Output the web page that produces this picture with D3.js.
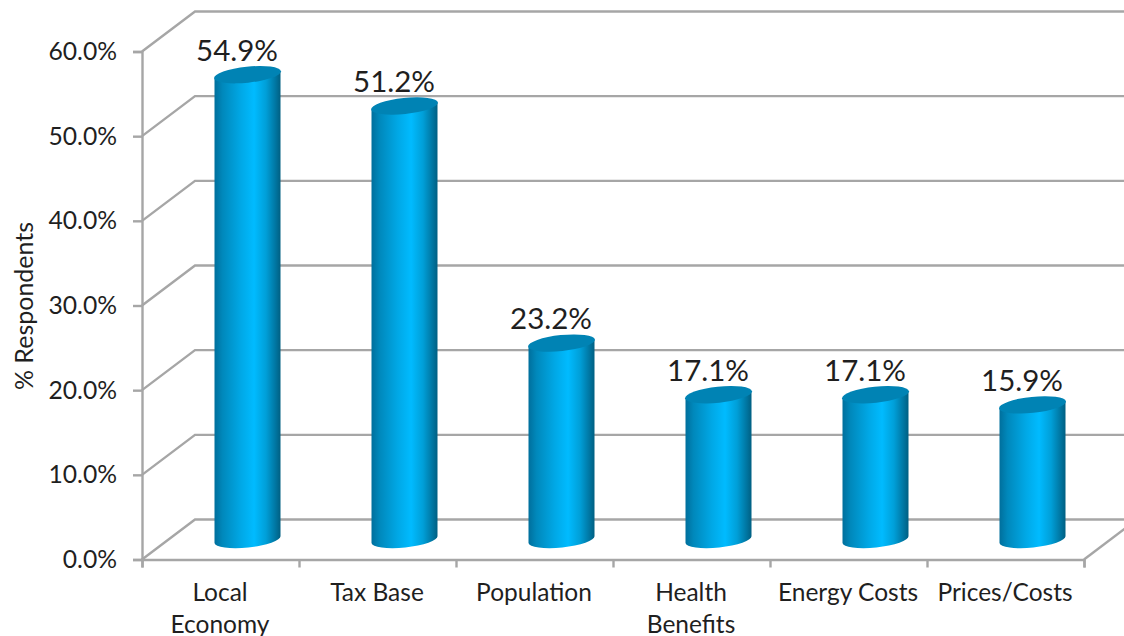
<!DOCTYPE html>
<html><head><meta charset="utf-8">
<script src="https://cdn.jsdelivr.net/npm/d3@7"></script>
<style>html,body{margin:0;padding:0;background:#fff}svg{display:block}text{font-family:Lato,"Open Sans",sans-serif;fill:#1f1f1f}</style>
</head><body><svg id="c" width="1124" height="636"></svg>
<script>
const categories = ["Local Economy","Tax Base","Population","Health Benefits","Energy Costs","Prices/Costs"];
const categoryLines = [["Local","Economy"],["Tax Base"],["Population"],["Health","Benefits"],["Energy Costs"],["Prices/Costs"]];
const values = [54.9,51.2,23.2,17.1,17.1,15.9];
const valueLabels = ["54.9%","51.2%","23.2%","17.1%","17.1%","15.9%"];
const yTicks = [0,10,20,30,40,50,60];

const W=1124,H=636, depthX=53, depthY=-40;
const svg=d3.select("#c");
const x=d3.scaleBand().domain(categories).range([142,1084]);
const xEdge=d3.scaleLinear().domain([0,6]).range([142,1084]);
const y=d3.scaleLinear().domain([0,60]).range([559.5,51.5]);
const grid="#a6a6a6";

// gradient
const defs=svg.append("defs");
const g=defs.append("linearGradient").attr("id","cyl").attr("x1",0).attr("x2",1).attr("y1",0).attr("y2",0);
[[0,"#006f9c"],[0.12,"#0088bb"],[0.4,"#00a8e6"],[0.6,"#00bbff"],[0.78,"#009fd8"],[0.93,"#00749f"],[1,"#005f82"]]
  .forEach(s=>g.append("stop").attr("offset",s[0]).attr("stop-color",s[1]));

// back wall gridlines and floor diagonals
const gl=svg.append("g").attr("fill","none").attr("stroke",grid).attr("stroke-width",2.4);
yTicks.forEach(t=>{
  gl.append("path").attr("d",d3.line()([[x.range()[0],y(t)],[x.range()[0]+depthX,y(t)+depthY],[W,y(t)+depthY]]));
});
gl.append("path").attr("d",d3.line()([[x.range()[1],y(0)],[x.range()[1]+depthX,y(0)+depthY]]));

// axes
const ay=svg.append("g").attr("transform","translate(142,0)")
  .call(d3.axisLeft(y).tickValues(yTicks).tickSize(9).tickPadding(16).tickFormat(d=>d.toFixed(1)+"%"));
const ax=svg.append("g").attr("transform",`translate(0,${y(0)})`)
  .call(d3.axisBottom(xEdge).tickValues(d3.range(0,7)).tickSize(8).tickFormat(""));
[ay,ax].forEach(a=>{a.selectAll("path,line").attr("stroke",grid).attr("stroke-width",2.4);});
ay.selectAll("text").attr("font-size",24.7).attr("fill","#1f1f1f");

// cylinders
const cx=c=>x(c)+x.bandwidth()/2+depthX/2+0.5;
const topY=v=>y(v)+depthY/2;
const rx=33, ry=8, tilt=-6;
const tan=Math.tan(tilt*Math.PI/180)*rx;
const bars=svg.append("g").selectAll("g").data(categories).join("g");
bars.append("path").attr("fill","url(#cyl)").attr("d",(c,i)=>{
  const X=cx(c),T=topY(values[i]),B=topY(0);
  return `M${X-rx},${T-tan}L${X+rx},${T+tan}L${X+rx},${B+tan}`+
    `A${rx},${ry} ${tilt} 0 1 ${X-rx},${B-tan}Z`;
});
bars.append("ellipse").attr("fill","#0083b4")
  .attr("rx",rx+0.6).attr("ry",ry)
  .attr("transform",(c,i)=>`translate(${cx(c)},${topY(values[i])}) rotate(${tilt})`);
bars.append("text").attr("text-anchor","middle").attr("font-size",29.5)
  .attr("x",c=>cx(c)-10.5).attr("y",(c,i)=>topY(values[i])-14)
  .text((c,i)=>valueLabels[i]);

// category labels
const lab=svg.append("g").selectAll("text").data(categories).join("text")
  .attr("text-anchor","middle").attr("font-size",24.5);
lab.each(function(c,i){
  const cxv=x(c)+x.bandwidth()/2-0.5;
  d3.select(this).selectAll("tspan").data(categoryLines[i]).join("tspan")
    .attr("x",cxv).attr("y",(d,j)=>601+j*32).text(d=>d);
});

// axis title
svg.append("text").attr("text-anchor","middle").attr("font-size",25)
  .attr("transform","translate(33,306) rotate(-90)").text("% Respondents");
</script></body></html>
